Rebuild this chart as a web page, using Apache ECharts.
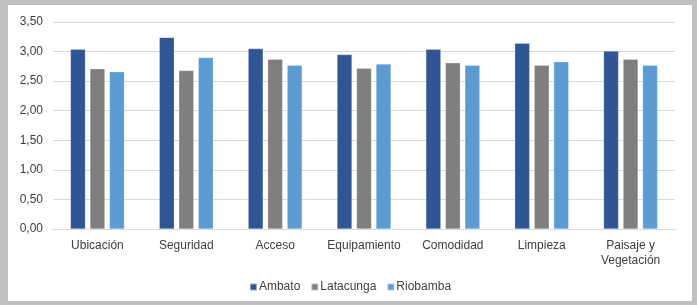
<!DOCTYPE html>
<html><head><meta charset="utf-8">
<script src="https://cdn.jsdelivr.net/npm/echarts@6/dist/echarts.min.js"></script>
<style>
html,body{margin:0;padding:0;width:697px;height:305px;background:#bfbfbf;overflow:hidden}
#c{position:absolute;left:8px;top:5px;width:684px;height:296px;background:#fff}
</style></head><body>
<div id="c"></div>
<script>
const categories = ['Ubicación','Seguridad','Acceso','Equipamiento','Comodidad','Limpieza','Paisaje y\nVegetación'];
const ambato = [3.04, 3.24, 3.05, 2.95, 3.04, 3.14, 3.01];
const latacunga = [2.71, 2.68, 2.87, 2.72, 2.81, 2.77, 2.87];
const riobamba = [2.66, 2.90, 2.77, 2.79, 2.77, 2.83, 2.77];
const seriesNames = ['Ambato','Latacunga','Riobamba'];
const yTicks = {min:0, max:3.5, interval:0.5};

const colors = ['#2F5597','#7F7F7F','#5B9BD5'];
const chart = echarts.init(document.getElementById('c'));
const font = 'Arial, "Liberation Sans", sans-serif';
const mk = (name, data, i) => ({
  name, type:'bar', data, barWidth:15, barGap:'30%',
  itemStyle:{color:colors[i], borderColor:'rgba(255,255,255,0.5)', borderWidth:0.5},
  animation:false
});
chart.setOption({
  animation:false,
  textStyle:{fontFamily:font},
  grid:{left:45, top:17, right:17, bottom:72},
  legend:{bottom:3, left:'center', itemWidth:7, itemHeight:7, itemGap:10,
    icon:'rect', textStyle:{fontSize:12, color:'#404040', fontFamily:font, padding:[0,0,0,-3]},
    data:seriesNames},
  xAxis:{type:'category', data:categories,
    axisLine:{lineStyle:{color:'#d9d9d9'}}, axisTick:{show:false},
    axisLabel:{fontSize:12, color:'#404040', margin:9, lineHeight:15, interval:0}},
  yAxis:{type:'value', min:yTicks.min, max:yTicks.max, interval:yTicks.interval,
    axisLine:{show:false}, axisTick:{show:false},
    splitLine:{lineStyle:{color:'#d9d9d9', width:1}},
    axisLabel:{fontSize:12, color:'#404040', margin:10,
      formatter:v=>v.toFixed(2).replace('.',',')}},
  series:[mk(seriesNames[0],ambato,0), mk(seriesNames[1],latacunga,1), mk(seriesNames[2],riobamba,2)]
});
</script></body></html>
